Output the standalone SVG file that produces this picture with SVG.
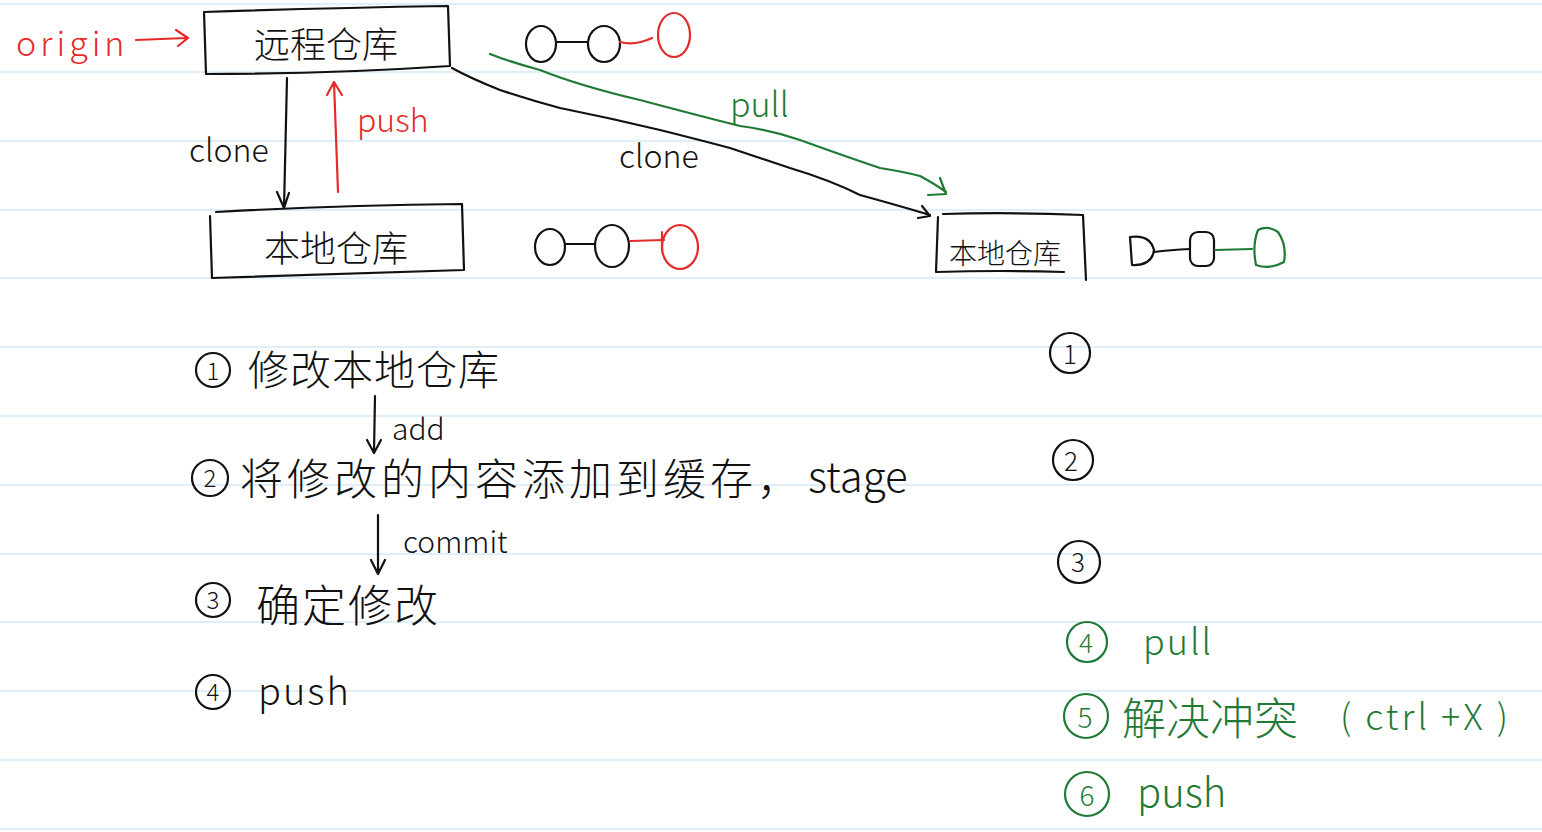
<svg xmlns="http://www.w3.org/2000/svg" width="1542" height="832" viewBox="0 0 1542 832">
<style>
.rule{stroke:#d4e8f7;stroke-width:1.6}
.k{stroke:#111;fill:none;stroke-width:2.2;stroke-linecap:round;stroke-linejoin:round}
.r{stroke:#e52a2a;fill:none;stroke-width:2.2;stroke-linecap:round;stroke-linejoin:round}
.g{stroke:#1f7a35;fill:none;stroke-width:2.2;stroke-linecap:round;stroke-linejoin:round}
text{font-family:"Noto Sans CJK SC","Noto Sans",sans-serif;font-weight:300}
.tk{fill:#111}.tr{fill:#e52a2a}.tg{fill:#1f7a35}
</style>
<rect width="1542" height="832" fill="#fff"/>
<g id="rules">
<line class="rule" x1="0" y1="4" x2="1542" y2="4"/>
<line class="rule" x1="0" y1="72" x2="1542" y2="72"/>
<line class="rule" x1="0" y1="141" x2="1542" y2="141"/>
<line class="rule" x1="0" y1="210" x2="1542" y2="210"/>
<line class="rule" x1="0" y1="278" x2="1542" y2="278"/>
<line class="rule" x1="0" y1="347" x2="1542" y2="347"/>
<line class="rule" x1="0" y1="416" x2="1542" y2="416"/>
<line class="rule" x1="0" y1="485" x2="1542" y2="485"/>
<line class="rule" x1="0" y1="554" x2="1542" y2="554"/>
<line class="rule" x1="0" y1="622" x2="1542" y2="622"/>
<line class="rule" x1="0" y1="691" x2="1542" y2="691"/>
<line class="rule" x1="0" y1="760" x2="1542" y2="760"/>
<line class="rule" x1="0" y1="829" x2="1542" y2="829"/>
</g>
<g id="origin">
<text class="tr" x="16" y="56" font-size="34" letter-spacing="4">origin</text>
<path class="r" d="M136 40 L186 38 M176 30 L188 38 L178 46"/>
</g>
<g id="remote">
<path class="k" d="M204 12 Q320 8 448 6 L450 66 Q330 74 206 74 Z"/>
<text class="tk" x="326" y="58" font-size="36" text-anchor="middle">远程仓库</text>
</g>
<g id="local1">
<path class="k" d="M216 212 Q340 205 462 204 L464 270 Q340 274 212 278 L210 216"/>
<text class="tk" x="336" y="262" font-size="36" text-anchor="middle">本地仓库</text>
</g>
<g id="local2">
<path class="k" d="M938 217 L936 272 Q1000 270 1064 272 M943 214 Q1010 212 1083 215 L1086 280"/>
<text class="tk" x="1005" y="264" font-size="28" text-anchor="middle">本地仓库</text>
</g>
<g id="commits-remote">
<ellipse class="k" cx="541" cy="44" rx="15" ry="18"/>
<line class="k" x1="556" y1="42" x2="587" y2="42"/>
<ellipse class="k" cx="604" cy="44" rx="16" ry="18"/>
<path class="r" d="M620 42 Q635 46 652 38"/>
<ellipse class="r" cx="674" cy="35" rx="16" ry="22"/>
</g>
<g id="commits-local1">
<ellipse class="k" cx="550" cy="247" rx="15" ry="18"/>
<line class="k" x1="565" y1="244" x2="595" y2="244"/>
<ellipse class="k" cx="612" cy="246" rx="17" ry="21"/>
<path class="r" d="M630 241 L664 240 M662 232 L662 250"/>
<ellipse class="r" cx="680" cy="247" rx="18" ry="22"/>
</g>
<g id="commits-local2">
<path class="k" d="M1130 237 Q1150 234 1154 250 Q1152 266 1132 265 Z"/>
<path class="k" d="M1154 252 Q1170 250 1190 249"/>
<rect class="k" x="1190" y="232" width="24" height="34" rx="8"/>
<path class="g" d="M1215 250 L1252 249"/>
<path class="g" d="M1258 230 Q1268 225 1278 232 Q1287 245 1284 262 Q1270 270 1256 265 Q1252 245 1258 230 Z"/>
</g>
<g id="connectors">
<path class="k" d="M287 78 L284 208 M277 192 L284 208 L289 193"/>
<path class="r" d="M338 192 L334 82 M327 95 L334 82 L342 95"/>
<path class="k" d="M452 68 Q470 78 500 90 Q530 100 560 108 Q610 118 660 130 Q700 140 730 148 Q760 158 790 168 Q830 180 860 195 Q900 206 930 215 M922 206 L930 216 L918 218"/>
<path class="g" d="M490 54 Q510 62 540 70 Q580 86 640 100 Q700 116 740 126 Q770 130 800 140 Q850 158 880 168 Q905 172 920 176 Q935 184 946 192 M940 178 L946 194 L928 195"/>
</g>
<g id="labels">
<text class="tk" x="189" y="162" font-size="32">clone</text>
<text class="tr" x="357" y="132" font-size="32">push</text>
<text class="tk" x="619" y="168" font-size="32">clone</text>
<text class="tg" x="730" y="117" font-size="34">pull</text>
</g>
<g id="steps-left">
<circle class="k" cx="213" cy="370" r="17"/><text class="tk" x="213" y="380" font-size="24" text-anchor="middle">1</text>
<text class="tk" x="248" y="385" font-size="41" letter-spacing="1">修改本地仓库</text>
<path class="k" d="M375 396 L374 452 M367 440 L374 453 L381 440"/>
<text class="tk" x="392" y="440" font-size="30">add</text>
<circle class="k" cx="210" cy="478" r="18"/><text class="tk" x="210" y="487" font-size="24" text-anchor="middle">2</text>
<text class="tk" x="240" y="495" font-size="43" letter-spacing="4">将修改的内容添加到缓存，</text>
<text class="tk" x="808" y="492" font-size="42">stage</text>
<path class="k" d="M378 515 L378 572 M371 560 L378 574 L385 560"/>
<text class="tk" x="403" y="553" font-size="30">commit</text>
<circle class="k" cx="213" cy="600" r="17"/><text class="tk" x="213" y="609" font-size="24" text-anchor="middle">3</text>
<text class="tk" x="256" y="622" font-size="44" letter-spacing="2">确定修改</text>
<circle class="k" cx="213" cy="692" r="17"/><text class="tk" x="213" y="701" font-size="24" text-anchor="middle">4</text>
<text class="tk" x="258" y="705" font-size="38" letter-spacing="2">push</text>
</g>
<g id="steps-right">
<circle class="k" cx="1070" cy="353" r="20"/><text class="tk" x="1070" y="364" font-size="26" text-anchor="middle">1</text>
<circle class="k" cx="1073" cy="460" r="20"/><text class="tk" x="1071" y="471" font-size="26" text-anchor="middle">2</text>
<circle class="k" cx="1079" cy="562" r="21"/><text class="tk" x="1078" y="572" font-size="26" text-anchor="middle">3</text>
<circle class="g" cx="1087" cy="642" r="20"/><text class="tg" x="1086" y="653" font-size="26" text-anchor="middle">4</text>
<text class="tg" x="1143" y="655" font-size="36" letter-spacing="2">pull</text>
<circle class="g" cx="1086" cy="716" r="22"/><text class="tg" x="1085" y="728" font-size="28" text-anchor="middle">5</text>
<text class="tg" x="1122" y="735" font-size="44">解决冲突</text>
<text class="tg" x="1340" y="730" font-size="36" letter-spacing="3">( ctrl +X )</text>
<circle class="g" cx="1087" cy="794" r="22"/><text class="tg" x="1087" y="806" font-size="28" text-anchor="middle">6</text>
<text class="tg" x="1137" y="807" font-size="40">push</text>
</g>
</svg>
